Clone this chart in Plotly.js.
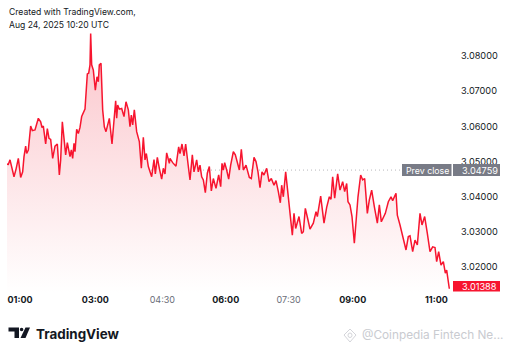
<!DOCTYPE html>
<html><head><meta charset="utf-8">
<script src="https://cdn.plot.ly/plotly-3.0.1.min.js"></script>
<style>html,body{margin:0;padding:0;background:#fff}#c{width:512px;height:354px}</style></head>
<body><div id="c"></div>
<script>
const barsA=[20,25,30,35,42,48,55,62,68,72,77,80,85,92,97,105,115,122,126,130,137,142,147,152,158,165,172,178,182,187,192,197,202,210,214,218,222,225,230,235,240,245,255,258,262,266,270,272,275,280,286,291,295,298,303,308,313,318,328,336,342,347,350,353,358,365,372,378,385,390,394,398,403,410,418,424,430,435,439,445,455,462,466,472,478,485,490,495,500,508];
const pricesA=[3.0493,3.0492,3.0505,3.0486,3.0457,3.0478,3.0509,3.0455,3.0471,3.0514,3.0544,3.0523,3.0533,3.0601,3.0588,3.0590,3.0623,3.0613,3.0597,3.0601,3.0550,3.0594,3.0566,3.0563,3.0509,3.0544,3.0550,3.0462,3.0505,3.0613,3.0571,3.0519,3.0554,3.0514,3.0533,3.0509,3.0552,3.0528,3.0592,3.0580,3.0597,3.0628,3.0649,3.0694,3.0749,3.0751,3.0775,3.0864,3.0775,3.0760,3.0703,3.0741,3.0727,3.0775,3.0779,3.0647,3.0599,3.0585,3.0623,3.0550,3.0628,3.0673,3.0623,3.0661,3.0649,3.0651,3.0628,3.0670,3.0647,3.0599,3.0632,3.0604,3.0647,3.0585,3.0557,3.0481,3.0569,3.0505,3.0523,3.0486,3.0457,3.0506,3.0465,3.0512,3.0481,3.0450,3.0481,3.0465,3.0525,3.0495];
const barsB=[510,518,528,536,540,546,552,557,565,570,577,582,590,595,600,605,610,616,622,628,634,640,648,656,662,666,670,674,680,686,692,700,706,712,718,724,730,738,748,754,762,768,774,780,786,792,800,807,814,822,828,835,841,845,850,857,862,870,877,882,887,897,905,910,916,924,930,940,948,952,962,972,980,988,993,998,1004,1013,1020];
const pricesB=[3.0509,3.0497,3.0487,3.0542,3.0523,3.0550,3.0516,3.0550,3.0486,3.0448,3.0519,3.0471,3.0505,3.0471,3.0490,3.0457,3.0448,3.0412,3.0467,3.0486,3.0417,3.0452,3.0424,3.0462,3.0429,3.0495,3.0476,3.0497,3.0476,3.0450,3.0490,3.0528,3.0519,3.0500,3.0476,3.0535,3.0476,3.0490,3.0455,3.0452,3.0512,3.0500,3.0471,3.0426,3.0471,3.0462,3.0481,3.0443,3.0452,3.0433,3.0446,3.0415,3.0383,3.0433,3.0400,3.0471,3.0424,3.0367,3.0291,3.0353,3.0310,3.0344,3.0296,3.0301,3.0367,3.0334,3.0308,3.0325,3.0358,3.0344,3.0402,3.0325,3.0370,3.0400,3.0393,3.0457,3.0396,3.0465,3.0419];
const barsC=[1028,1034,1040,1044,1050,1056,1063,1068,1074,1082,1088,1094,1102,1108,1115,1123,1132,1138,1144,1156,1165,1173,1178,1188,1192,1200,1208,1218,1225,1230,1238,1245,1252,1260,1266,1274,1282,1290,1298,1305,1310,1316,1323,1330,1336,1340,1348];
const pricesC=[3.0443,3.0415,3.0438,3.0386,3.0377,3.0344,3.0268,3.0334,3.0400,3.0462,3.0448,3.0452,3.0353,3.0391,3.0419,3.0372,3.0325,3.0377,3.0329,3.0353,3.0386,3.0400,3.0389,3.0410,3.0348,3.0320,3.0287,3.0249,3.0287,3.0289,3.0244,3.0277,3.0263,3.0353,3.0320,3.0344,3.0296,3.0244,3.0258,3.0256,3.0216,3.0244,3.0206,3.0216,3.0183,3.0192,3.01388];
const tickBars=[60,286,487,677,866,1058,1309];
const tickTimes=['<b>01:00</b>','<b>03:00</b>','<span style="color:#6a6d78">04:30</span>','<b>06:00</b>','<span style="color:#6a6d78">07:30</span>','<b>09:00</b>','<b>11:00</b>'];
const priceTicks=[3.02,3.03,3.04,3.05,3.06,3.07,3.08];
const prevClose=3.04759, lastPrice=3.01388;
const bars=barsA.concat(barsB,barsC), prices=pricesA.concat(pricesB,pricesC);

const W=512,H=354,mL=7,mR=56,mT=30,mB=61;
const px=x=>(x-mL)/(W-mL-mR), py=y=>(H-mB-y)/(H-mT-mB);
const sans='Inter, "Liberation Sans", sans-serif';
const rect=(x0,y0,x1,y1,c)=>({type:'rect',xref:'paper',yref:'paper',x0:px(x0),x1:px(x1),y0:py(y0),y1:py(y1),fillcolor:c,line:{width:0},layer:'above'});
const poly=(pts,c)=>({type:'path',xref:'paper',yref:'paper',path:'M'+pts.map(p=>px(p[0])+' '+py(p[1])).join('L')+'Z',fillcolor:c,line:{width:0},layer:'above'});
const label=(x,y,t,o)=>Object.assign({xref:'paper',yref:'paper',x:px(x),y:py(y),text:t,showarrow:false,xanchor:'left',yanchor:'middle',font:{family:sans,size:8.6,color:'#131722'}},o||{});

const data=[
 {x:[21,1206],y:[prevClose,prevClose],mode:'lines',line:{color:'#b8b8bc',width:1,dash:'1px 3px'},hoverinfo:'skip'},
 {x:bars,y:prices,mode:'lines',line:{color:'#f7152f',width:1.5},fill:'tozeroy',
  fillcolor:'rgba(250,200,205,.5)',
  fillgradient:{type:'vertical',start:3.0864,stop:3.0127,colorscale:[[0,'rgba(251,196,202,1)'],[1,'rgba(255,255,255,1)']]},hoverinfo:'skip'}
];
const layout={width:W,height:H,margin:{l:mL,r:mR,t:mT,b:mB,pad:0},paper_bgcolor:'#fff',plot_bgcolor:'#fff',showlegend:false,
 xaxis:{range:[21,1368],tickvals:tickBars,ticktext:tickTimes,showgrid:false,zeroline:false,showline:false,ticks:'',ticklen:0,tickangle:0,tickfont:{family:'Inter, sans-serif',size:9,color:'#131722'},automargin:false},
 yaxis:{side:'right',range:[3.01267,3.08739],tickvals:priceTicks,ticktext:priceTicks.map(v=>v.toFixed(5)),showgrid:false,zeroline:false,showline:false,ticks:'',tickfont:{family:sans,size:9.2,color:'#131722'},ticklabelstandoff:4,automargin:false},
 shapes:[
  rect(402,164,451.5,176,'#787b86'),rect(453,164,500,176,'#787b86'),rect(453,281,500,291.5,'#f7152f'),
  poly([[8.5,327.5],[19,327.5],[19,338],[14.5,338],[14.5,331.5],[8.5,331.5]],'#131722'),
  poly([[25.5,327.5],[30,327.5],[25.5,338],[20.5,338]],'#131722'),
  {type:'circle',xref:'paper',yref:'paper',x0:px(19.8),x1:px(23.4),y0:py(331.3),y1:py(327.7),fillcolor:'#131722',line:{width:0},layer:'above'},
  {type:'path',xref:'paper',yref:'paper',path:'M'+[[344,335],[350,329],[356,335],[350,342]].map(p=>px(p[0])+' '+py(p[1])).join('L')+'Z',fillcolor:'rgba(0,0,0,0)',line:{color:'#d4d5da',width:1},layer:'above'},
  {type:'circle',xref:'paper',yref:'paper',x0:px(348),x1:px(352),y0:py(337.5),y1:py(333),fillcolor:'rgba(0,0,0,0)',line:{color:'#d4d5da',width:1},layer:'above'}
 ],
 annotations:[
  label(7,12.5,'Created with TradingView.com,'),
  label(7,25,'Aug 24, 2025 10:20 UTC'),
  label(404,170,'Prev close',{font:{family:sans,size:8.8,color:'#fff'}}),
  label(460,170,prevClose.toFixed(5),{font:{family:sans,size:9.2,color:'#fff'}}),
  label(460,286.5,lastPrice.toFixed(5),{font:{family:sans,size:9.2,color:'#fff'}}),
  label(34,333.5,'<b>TradingView</b>',{font:{family:sans,size:13.4,color:'#131722'}}),
  label(360,335,'@Coinpedia Fintech Ne...',{font:{family:sans,size:11.8,color:'#c9cbd0'}})
 ]
};
Plotly.newPlot('c',data,layout,{displayModeBar:false,staticPlot:true});
</script></body></html>
